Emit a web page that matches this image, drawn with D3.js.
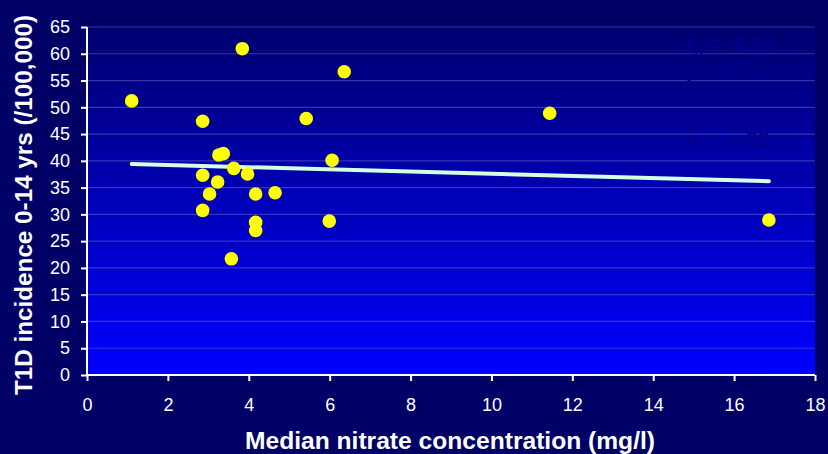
<!DOCTYPE html>
<html><head><meta charset="utf-8">
<script src="https://cdn.jsdelivr.net/npm/d3@7"></script>
<style>html,body{margin:0;padding:0;background:#000066;}svg{display:block;}</style>
</head><body>
<script>
const nitrate = [1.105, 3.84, 6.36, 11.44, 2.86, 5.42, 3.26, 3.37, 6.06, 3.63, 3.97, 2.86, 3.23, 3.03, 4.17, 4.65, 2.86, 5.99, 4.17, 4.17, 3.57, 16.86];
const incidence = [51.2, 60.95, 56.65, 48.9, 47.4, 47.9, 41.1, 41.35, 40.1, 38.6, 37.55, 37.3, 36.05, 33.8, 33.8, 34.05, 30.75, 28.75, 28.5, 27.0, 21.7, 28.95];
const trendX = [1.105, 16.86];
const trendY = [39.4, 36.2];
const xTicks = [0, 2, 4, 6, 8, 10, 12, 14, 16, 18];
const yTicks = [0, 5, 10, 15, 20, 25, 30, 35, 40, 45, 50, 55, 60, 65];
const statLines = ["r", "p = N.S.", "n = 22"];

const W = 828, H = 454;
const svg = d3.select("body").append("svg").attr("width", W).attr("height", H);
svg.append("rect").attr("width", W).attr("height", H).attr("fill", "#000066");

const x = d3.scaleLinear().domain([0, 18]).range([87, 815]);
const y = d3.scaleLinear().domain([0, 65]).range([375, 27]);

const defs = svg.append("defs");
const grad = defs.append("linearGradient").attr("id", "bg").attr("x1", 0).attr("y1", 0).attr("x2", 0).attr("y2", 1);
grad.append("stop").attr("offset", "0%").attr("stop-color", "#000070");
grad.append("stop").attr("offset", "100%").attr("stop-color", "#0000ff");

svg.append("rect").attr("x", x(0)).attr("y", y(65)).attr("width", x(18) - x(0)).attr("height", y(0) - y(65)).attr("fill", "url(#bg)");

// gridlines
svg.append("g").selectAll("line").data(yTicks.filter(d => d > 0)).join("line")
  .attr("x1", x(0)).attr("x2", x(18)).attr("y1", d => y(d)).attr("y2", d => y(d))
  .attr("stroke", "#6a6ac8").attr("stroke-opacity", 0.5).attr("stroke-width", 1.2);

// faint stats text
const st = svg.append("g").attr("font-family", "Liberation Sans, Arial, sans-serif").attr("font-weight", "bold").attr("font-size", 21).attr("fill", "#00008a");
const t1 = st.append("text").attr("x", 686).attr("y", 51);
t1.append("tspan").text("r");
t1.append("tspan").attr("font-size", 14).attr("dy", 6).text("p");
t1.append("tspan").attr("dy", -6).text(" = -0.16");
st.append("text").attr("x", 686).attr("y", 80).text(statLines[1]);
st.append("text").attr("x", 686).attr("y", 146).attr("xml:space", "preserve").text("n     = 22");

// trend line
svg.append("line")
  .attr("x1", x(trendX[0])).attr("y1", y(trendY[0])).attr("x2", x(trendX[1])).attr("y2", y(trendY[1]))
  .attr("stroke", "#d4ffe0").attr("stroke-width", 4).attr("stroke-linecap", "round");

// points
svg.append("g").selectAll("circle").data(nitrate.map((d, i) => [d, incidence[i]])).join("circle")
  .attr("cx", d => x(d[0])).attr("cy", d => y(d[1])).attr("r", 6.8).attr("fill", "#ffff00");

// axes
const font = "Liberation Sans, Arial, sans-serif";
const xAxis = svg.append("g").attr("transform", `translate(0,${y(0)})`)
  .call(d3.axisBottom(x).tickValues(xTicks).tickSize(6).tickPadding(17).tickFormat(d3.format("d")));
const yAxis = svg.append("g").attr("transform", `translate(${x(0)},0)`)
  .call(d3.axisLeft(y).tickValues(yTicks).tickSize(6).tickPadding(11).tickFormat(d3.format("d")));
[xAxis, yAxis].forEach(a => {
  a.select(".domain").attr("stroke", "#ffffff").attr("stroke-width", 2);
  a.selectAll(".tick line").attr("stroke", "#ffffff").attr("stroke-width", 2);
  a.selectAll(".tick text").attr("fill", "#ffffff").attr("font-family", font).attr("font-size", 18);
});
xAxis.select(".domain").attr("d", `M${x(0)},0H${x(18)}`);
yAxis.select(".domain").attr("d", `M0,${y(65)}V${y(0)}`);

svg.append("text").attr("x", 450).attr("y", 449).attr("text-anchor", "middle")
  .attr("font-family", font).attr("font-weight", "bold").attr("font-size", 24).attr("fill", "#ffffff")
  .attr("textLength", 410).attr("lengthAdjust", "spacingAndGlyphs")
  .text("Median nitrate concentration (mg/l)");
svg.append("text").attr("transform", "translate(32,205) rotate(-90)").attr("text-anchor", "middle")
  .attr("font-family", font).attr("font-weight", "bold").attr("font-size", 23).attr("fill", "#ffffff")
  .attr("textLength", 380).attr("lengthAdjust", "spacingAndGlyphs")
  .text("T1D incidence 0-14 yrs (/100,000)");
</script>
</body></html>
